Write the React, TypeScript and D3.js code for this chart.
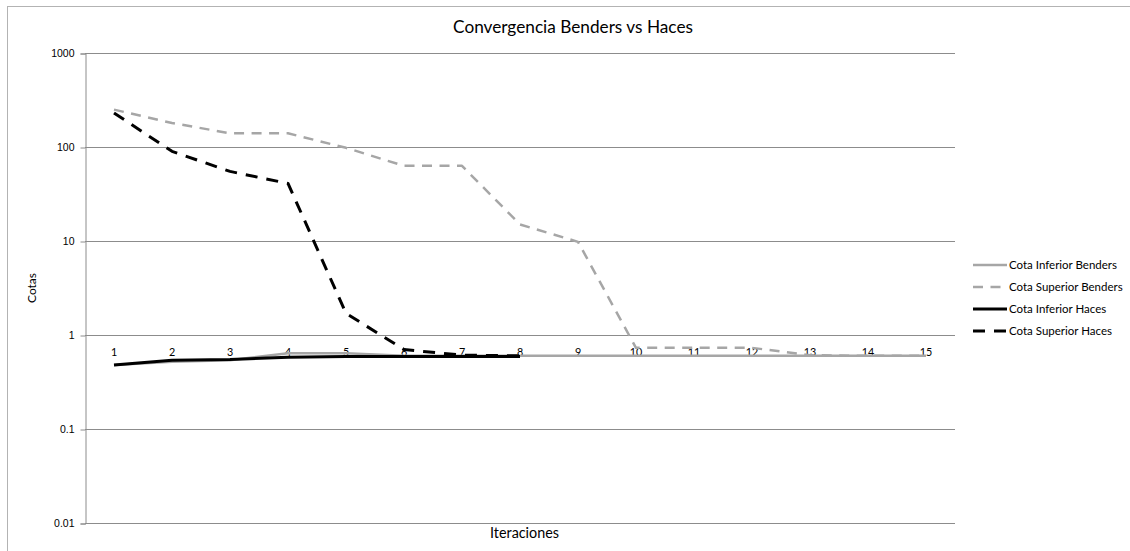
import React, { useRef, useEffect } from 'react';
import * as d3 from 'd3';

// Iterations 1..15 on the category axis
const iterations: string[] = ['1', '2', '3', '4', '5', '6', '7', '8', '9', '10', '11', '12', '13', '14', '15'];

// Series values (log scale)
const cotaInferiorBenders: number[] = [0.48, 0.52, 0.54, 0.64, 0.64, 0.6, 0.6, 0.6, 0.6, 0.6, 0.6, 0.6, 0.6, 0.6, 0.6];
const cotaSuperiorBenders: number[] = [250, 180, 140, 140, 98, 63, 63, 15, 9.8, 0.73, 0.73, 0.73, 0.61, 0.6, 0.6];
const cotaInferiorHaces: number[] = [0.48, 0.54, 0.55, 0.58, 0.59, 0.59, 0.59, 0.59];
const cotaSuperiorHaces: number[] = [230, 90, 55, 41, 1.7, 0.7, 0.61, 0.6];

const yTicks: number[] = [0.01, 0.1, 1, 10, 100, 1000];
const yTickLabels: string[] = ['0.01', '0.1', '1', '10', '100', '1000'];

const seriesNames: string[] = ['Cota Inferior Benders', 'Cota Superior Benders', 'Cota Inferior Haces', 'Cota Superior Haces'];

// scale a text's font size so it spans the wanted width (Lato stands in for Calibri)
const fitWidth = (sel: any, target: number): number => {
  const node = sel.node() as SVGTextElement;
  const w = node.getComputedTextLength();
  const fs = parseFloat(sel.style('font-size'));
  const size = w > 0 ? fs * target / w : fs;
  sel.style('font-size', `${size}px`);
  return size;
};

const App = () => {
  const svgRef = useRef<SVGSVGElement>(null);

  useEffect(() => {
    const svg = d3.select(svgRef.current);
    svg.selectAll('*').remove();

    const W = 1130, H = 551;
    const plot = { left: 85, right: 955, top: 53, bottom: 523 };
    const calibri = 'Lato, "Open Sans", sans-serif';
    const arial = '"Liberation Sans", Arial, sans-serif';

    svg.attr('width', W).attr('height', H);

    svg.append('rect').attr('width', W).attr('height', H).attr('fill', '#fff');
    // chart area border (clipped at right/bottom in the reference)
    svg.append('rect')
      .attr('x', 7.5).attr('y', 6.5).attr('width', W + 20).attr('height', H + 20)
      .attr('fill', 'none').attr('stroke', '#b3b3b3').attr('stroke-width', 1);

    const x = d3.scaleBand<string>().domain(iterations).range([plot.left, plot.right]);
    const y = d3.scaleLog().domain([0.01, 1000]).range([plot.bottom, plot.top]);

    // gridlines
    svg.append('g')
      .selectAll('line')
      .data(yTicks)
      .enter().append('line')
      .attr('x1', plot.left).attr('x2', plot.right)
      .attr('y1', d => Math.round(y(d)) + 0.5).attr('y2', d => Math.round(y(d)) + 0.5)
      .attr('stroke', '#8c8c8c').attr('stroke-width', 1);

    // y axis
    const yAxis = svg.append('g')
      .attr('transform', `translate(${plot.left + 0.5},0.5)`)
      .call(d3.axisLeft(y).tickValues(yTicks).tickSize(5).tickPadding(6)
        .tickFormat((d, i) => yTickLabels[i]));
    yAxis.select('.domain').attr('stroke', '#8c8c8c');
    yAxis.selectAll('.tick line').attr('stroke', '#8c8c8c');
    yAxis.selectAll('.tick text')
      .style('font-family', arial).style('font-size', '10.5px').attr('fill', '#000');

    // category axis crossing at 1
    const xAxis = svg.append('g')
      .attr('transform', `translate(0,${Math.round(y(1)) + 0.5})`)
      .call(d3.axisBottom(x).tickSize(0).tickPadding(13));
    xAxis.select('.domain').remove();
    const xLabels = xAxis.selectAll('.tick text')
      .style('font-family', calibri).style('font-size', '12px').attr('fill', '#000');
    const xSize = fitWidth(xAxis.selectAll('.tick text').filter((d: any) => d === '10'), 12.5);
    xLabels.style('font-size', `${xSize}px`);

    const line = d3.line<number>()
      .x((d, i) => (x(iterations[i]) as number) + x.bandwidth() / 2)
      .y(d => y(d));

    const styles = [
      { data: cotaInferiorBenders, color: '#a6a6a6', width: 2.5, dash: null },
      { data: cotaSuperiorBenders, color: '#a6a6a6', width: 2.5, dash: '10,7.5' },
      { data: cotaInferiorHaces, color: '#000', width: 3, dash: null },
      { data: cotaSuperiorHaces, color: '#000', width: 3, dash: '12,9' },
    ];

    styles.forEach(s => {
      svg.append('path')
        .datum(s.data)
        .attr('d', line)
        .attr('fill', 'none')
        .attr('stroke', s.color)
        .attr('stroke-width', s.width)
        .attr('stroke-linejoin', 'round')
        .attr('stroke-dasharray', s.dash);
    });

    // legend
    const legend = svg.append('g');
    const legendTexts: any[] = [];
    seriesNames.forEach((name, i) => {
      const ly = 265 + i * 22;
      const s = styles[i];
      legend.append('line')
        .attr('x1', 973).attr('x2', 1007).attr('y1', ly).attr('y2', ly)
        .attr('stroke', s.color).attr('stroke-width', s.width)
        .attr('stroke-dasharray', s.dash);
      legendTexts.push(legend.append('text')
        .attr('x', 1009).attr('y', ly).attr('dy', '0.35em')
        .style('font-family', calibri).style('font-size', '12px')
        .text(name));
    });
    const legendSize = fitWidth(legendTexts[0], 108);
    legendTexts.forEach(t => t.style('font-size', `${legendSize}px`));

    // title
    const title = svg.append('text')
      .attr('x', 573).attr('y', 33)
      .attr('text-anchor', 'middle')
      .style('font-family', calibri).style('font-size', '17px')
      .text('Convergencia Benders vs Haces');
    fitWidth(title, 240);

    // axis titles
    const yTitle = svg.append('text')
      .attr('transform', `translate(32,288) rotate(-90)`)
      .attr('text-anchor', 'middle').attr('dy', '0.35em')
      .style('font-family', calibri).style('font-size', '12px')
      .text('Cotas');
    fitWidth(yTitle, 30);

    const xTitle = svg.append('text')
      .attr('x', 524.5).attr('y', 538)
      .attr('text-anchor', 'middle')
      .style('font-family', calibri).style('font-size', '12px')
      .text('Iteraciones');
    fitWidth(xTitle, 69);
  }, []);

  return (
    <div style={{ position: 'absolute', left: 0, top: 0 }}>
      <svg ref={svgRef} style={{ display: 'block' }}></svg>
    </div>
  );
};

export default App;
